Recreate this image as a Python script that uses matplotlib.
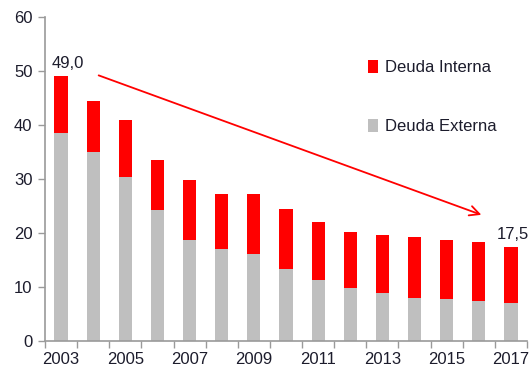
import matplotlib
matplotlib.use("Agg")
import matplotlib.pyplot as plt
import numpy as np

years = list(range(2003, 2018))
externa = [38.5, 35.1, 30.4, 24.2, 18.8, 17.1, 16.2, 13.3, 11.4, 9.8, 8.9, 8.0, 7.9, 7.5, 7.0]
total = [49.0, 44.4, 41.0, 33.6, 29.9, 27.2, 27.3, 24.4, 22.0, 20.3, 19.7, 19.3, 18.8, 18.3, 17.5]
interna = [t - e for t, e in zip(total, externa)]
year_labels = [str(y) if y % 2 == 1 else "" for y in years]

plt.rcParams["font.family"] = ["Liberation Sans", "DejaVu Sans"]
text_color = "#1c1c2c"
axis_color = "#9a9a9a"
red = "#ff0000"
grey = "#bfbfbf"

W, H = 532, 377
fig = plt.figure(figsize=(W / 100, H / 100), dpi=100)
ax = fig.add_axes([45 / W, 1 - 341.3 / H, (527 - 45) / W, (341.3 - 17) / H])

x = np.arange(len(years))
ax.bar(x, externa, width=0.41, color=grey, label="Deuda Externa", zorder=2)
ax.bar(x, interna, bottom=externa, width=0.41, color=red, label="Deuda Interna", zorder=2)

ax.set_xlim(-0.5, len(years) - 0.5)
ax.set_ylim(0, 60)
ax.set_yticks(range(0, 61, 10))

# category boundaries carry the tick marks; labels sit under the bars
ax.set_xticks(np.arange(-0.5, len(years) + 0.5, 1.0))
ax.set_xticklabels([])
ax.set_xticks(x, minor=True)
ax.set_xticklabels(year_labels, minor=True)
ax.tick_params(axis="x", which="minor", length=0, pad=8, labelsize=12, labelcolor=text_color)
ax.tick_params(axis="x", which="major", length=5, color=axis_color, width=1)
ax.tick_params(axis="y", length=5, color=axis_color, width=1, labelsize=12,
               labelcolor=text_color, pad=4)

for s in ("top", "right"):
    ax.spines[s].set_visible(False)
for s in ("left", "bottom"):
    ax.spines[s].set_color(axis_color)
    ax.spines[s].set_linewidth(1.2)

ax.text(x[0] + 0.2, total[0] + 1.0, "49,0", ha="center", va="bottom",
        fontsize=12, color=text_color)
ax.text(x[-1] + 0.05, total[-1] + 0.8, "17,5", ha="center", va="bottom",
        fontsize=12, color=text_color)

ax.annotate("", xy=(13.08, 23.4), xytext=(1.17, 49.2),
            arrowprops=dict(arrowstyle="->,head_length=0.7,head_width=0.35",
                            color=red, lw=1.3, shrinkA=0, shrinkB=0))

handles, labels = ax.get_legend_handles_labels()
leg = ax.legend(handles[::-1], labels[::-1], loc="upper left",
                bbox_to_anchor=(0.639, 0.915), frameon=False, fontsize=12,
                handlelength=0.6, handleheight=0.9, handletextpad=0.4,
                labelspacing=2.6, labelcolor=text_color)

fig.savefig("out.png", dpi=100)
